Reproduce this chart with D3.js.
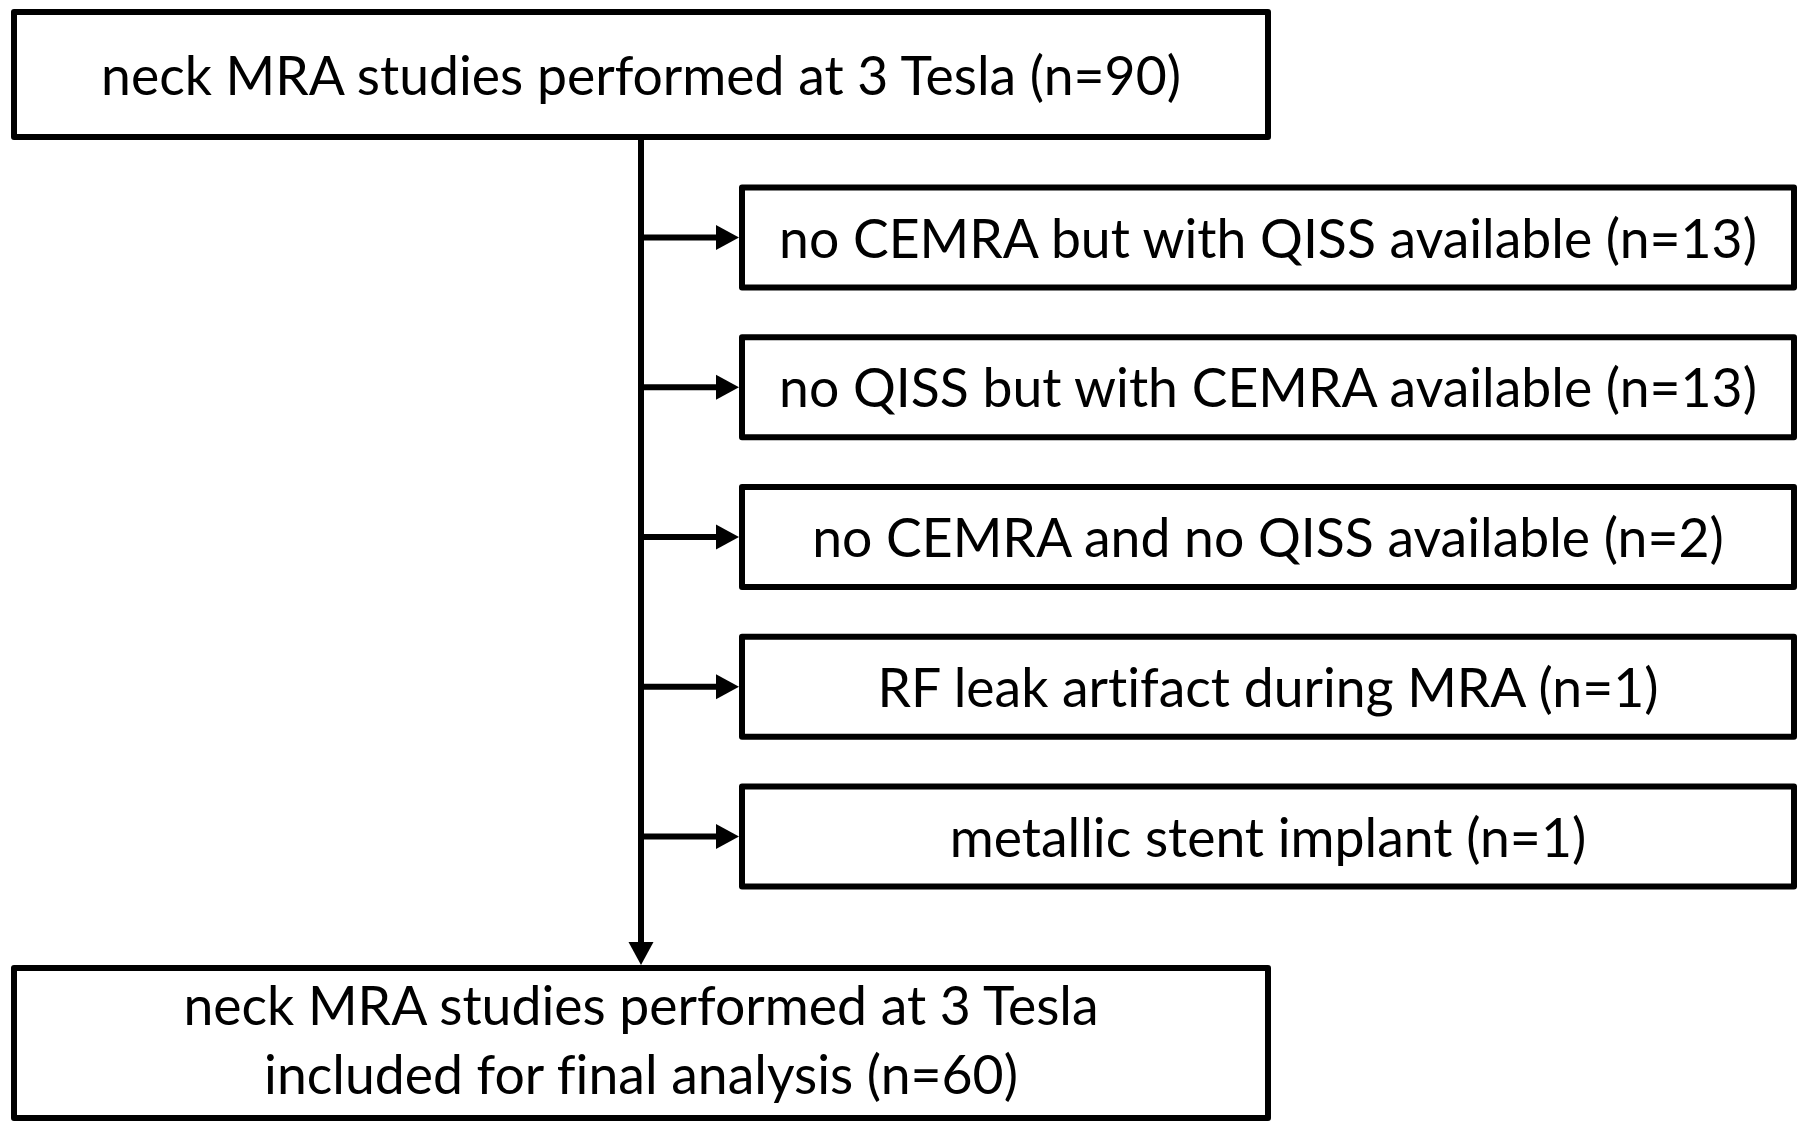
<!DOCTYPE html>
<html>
<head>
<meta charset="utf-8">
<script src="https://cdn.jsdelivr.net/npm/d3@7/dist/d3.min.js"></script>
<style>
  html, body { margin: 0; padding: 0; background: #fff; }
  svg { display: block; }
  text { font-family: Lato, "Open Sans", sans-serif; fill: #000; font-variant-ligatures: none; }
</style>
</head>
<body>
<svg id="chart" width="1810" height="1136"></svg>
<script>
// ---- data ----
const topLabel = ["neck MRA studies performed at 3 Tesla (n=90)"];
const exclusionLabels = [
  "no CEMRA but with QISS available (n=13)",
  "no QISS but with CEMRA available (n=13)",
  "no CEMRA and no QISS available (n=2)",
  "RF leak artifact during MRA (n=1)",
  "metallic stent implant (n=1)"
];
const exclusionCounts = [13, 13, 2, 1, 1];
const bottomLabel = ["neck MRA studies performed at 3 Tesla", "included for final analysis (n=60)"];

// ---- layout ----
const svg = d3.select("#chart");
const SW = 6;          // stroke width
const FS = 53.5;       // font size
const mainX0 = 14, mainX1 = 1268;
const sideX0 = 742, sideX1 = 1794;
const trunkX = 641;
const boxH = 100;

const y = d3.scalePoint().domain(d3.range(exclusionLabels.length)).range([237.5, 836.5]);

const topBox = {y0: 12, y1: 137};
const botBox = {y0: 968, y1: 1118};

function box(x0, y0, x1, y1) {
  svg.append("rect")
    .attr("x", x0).attr("y", y0)
    .attr("width", x1 - x0).attr("height", y1 - y0)
    .attr("fill", "#fff").attr("stroke", "#000")
    .attr("stroke-width", SW).attr("stroke-linejoin", "round");
}

// trunk line
svg.append("line")
  .attr("x1", trunkX).attr("x2", trunkX)
  .attr("y1", topBox.y1).attr("y2", botBox.y0 - 20)
  .attr("stroke", "#000").attr("stroke-width", SW);

// down arrowhead
const tipY = botBox.y0 - SW / 2;
svg.append("path")
  .attr("d", d3.line()([[trunkX - 12.5, tipY - 23], [trunkX + 12.5, tipY - 23], [trunkX, tipY]]) + "Z")
  .attr("fill", "#000");

// top box
box(mainX0, topBox.y0, mainX1, topBox.y1);
svg.append("text")
  .attr("x", (mainX0 + mainX1) / 2)
  .attr("y", (topBox.y0 + topBox.y1) / 2 + 20)
  .attr("text-anchor", "middle")
  .attr("font-size", FS)
  .text(topLabel[0]);

// exclusion boxes
const g = svg.selectAll("g.excl").data(exclusionLabels).join("g").attr("class", "excl");
g.each(function(label, i) {
  const cy = y(i);
  const sel = d3.select(this);
  const tipX = sideX0 - SW / 2;
  sel.append("line")
    .attr("x1", trunkX).attr("x2", tipX - 20)
    .attr("y1", cy).attr("y2", cy)
    .attr("stroke", "#000").attr("stroke-width", SW);
  sel.append("path")
    .attr("d", d3.line()([[tipX - 23, cy - 12.5], [tipX - 23, cy + 12.5], [tipX, cy]]) + "Z")
    .attr("fill", "#000");
  sel.append("rect")
    .attr("x", sideX0).attr("y", cy - boxH / 2)
    .attr("width", sideX1 - sideX0).attr("height", boxH)
    .attr("fill", "#fff").attr("stroke", "#000")
    .attr("stroke-width", SW).attr("stroke-linejoin", "round");
  sel.append("text")
    .attr("x", (sideX0 + sideX1) / 2)
    .attr("y", cy + 20)
    .attr("text-anchor", "middle")
    .attr("font-size", FS)
    .text(label);
});

// bottom box
box(mainX0, botBox.y0, mainX1, botBox.y1);
const bl = [1025, 1094];
svg.selectAll("text.bot").data(bottomLabel).join("text")
  .attr("class", "bot")
  .attr("x", (mainX0 + mainX1) / 2)
  .attr("y", (d, i) => bl[i])
  .attr("text-anchor", "middle")
  .attr("font-size", FS)
  .text(d => d);
</script>
</body>
</html>
